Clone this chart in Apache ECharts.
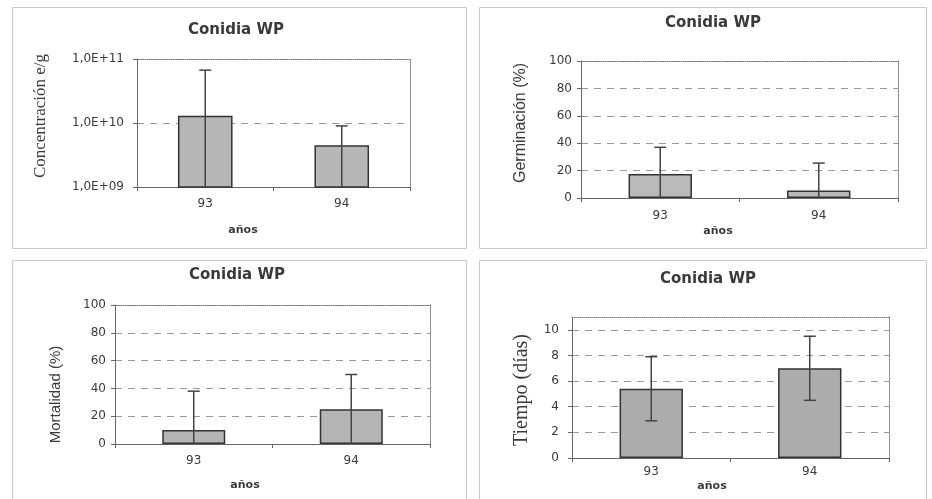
<!DOCTYPE html>
<html><head><meta charset="utf-8">
<script src="https://cdn.jsdelivr.net/npm/echarts@6/dist/echarts.min.js"></script>
<style>html,body{margin:0;padding:0;background:#fff}#c{width:932px;height:499px}</style>
</head><body><div id="c"></div>
<script>
// ---- data ----
const categories = ['93', '94'];
const titleText = 'Conidia WP';
const xName = 'años';

const concValues = [1.3e10, 4.5e9];
const concErrors = [5.4e10, 4.5e9];
const concTicks = [1e9, 1e10, 1e11];
const concTickLabels = ['1,0E+09', '1,0E+10', '1,0E+11'];

const germValues = [17.5, 5.5];
const germErrors = [19.5, 20];

const mortValues = [10, 25];
const mortErrors = [28, 25];

const timeValues = [5.4, 7.0];
const timeErrors = [2.5, 2.5];
const timeTicks = [0, 2, 4, 6, 8, 10];

// ---- layout / style ----
const panels = [
  { box:[12,7,454,241], grid:{left:137,top:59,width:273,height:128}, title:{x:236,y:23},
    yName:'Concentración e/g', yFont:'Liberation Serif', ySize:17, yGap:88, yPad:[0,0,0,14],
    xLabMargin:11, xNameGap:38, xNamePad:[0,61,0,0], yLabMargin:13,
    values:concValues, errors:concErrors, log:true, min:1e9, max:1e11, color:'#b7b7b7', lowCap:false },
  { box:[479,7,447,241], grid:{left:581,top:61,width:317,height:137}, title:{x:713,y:16},
    yName:'Germinación (%)', yFont:'Liberation Sans', ySize:16, yGap:52, yPad:[0,0,0,13],
    xLabMargin:12, xNameGap:28, xNamePad:[0,43,0,0], yLabMargin:9,
    values:germValues, errors:germErrors, min:0, max:100, interval:20, color:'#b9b9b9', lowCap:false },
  { box:[12,260,454,245], grid:{left:115,top:305,width:315,height:139}, title:{x:237,y:268},
    yName:'Mortalidad (%)', yFont:'Liberation Sans', ySize:15, yGap:52, yPad:[0,40,0,0],
    xLabMargin:11, xNameGap:36, xNamePad:[0,55,0,0], yLabMargin:9,
    values:mortValues, errors:mortErrors, min:0, max:100, interval:20, color:'#b5b5b5', lowCap:false },
  { box:[479,260,447,245], grid:{left:572,top:317,width:317,height:141}, title:{x:708,y:272},
    yName:'Tiempo (días)', yFont:'Liberation Serif', ySize:20, yGap:40, yPad:[0,5,0,0],
    xLabMargin:8, xNameGap:23, xNamePad:[0,37,0,0], yLabMargin:13,
    values:timeValues, errors:timeErrors, min:0, max:11, interval:2, custom:timeTicks, color:'#acacac', lowCap:true }
];

const textColor = '#3a3a3a';
const axisColor = '#666';
const tickFont = 'DejaVu Sans';

const option = { animation:false, backgroundColor:'#fff', title:[], grid:[], xAxis:[], yAxis:[], series:[], graphic:[] };

panels.forEach((p, i) => {
  option.graphic.push({ type:'rect', shape:{x:p.box[0]+0.5, y:p.box[1]+0.5, width:p.box[2], height:p.box[3]},
    style:{fill:'none', stroke:'#c9c9c9', lineWidth:1}, z:-10, silent:true });
  option.title.push({ text:titleText, left:p.title.x, top:p.title.y, textAlign:'center', padding:0,
    textStyle:{ fontFamily:'DejaVu Sans', fontWeight:'bold', fontSize:15, color:textColor } });
  option.grid.push(Object.assign({ containLabel:false }, p.grid));

  option.xAxis.push({
    type:'category', gridIndex:i, data:categories, position:'bottom',
    name:xName, nameLocation:'middle', nameGap:p.xNameGap,
    nameTextStyle:{ fontFamily:'DejaVu Sans', fontWeight:'bold', fontSize:11, color:textColor, padding:p.xNamePad },
    axisLine:{ show:true, onZero:false, lineStyle:{ color:axisColor, width:1 } },
    axisTick:{ show:true, alignWithLabel:false, length:4, lineStyle:{ color:axisColor } },
    axisLabel:{ margin:p.xLabMargin, fontFamily:tickFont, fontSize:12, color:textColor },
    splitLine:{ show:false }
  });
  option.xAxis.push({
    type:'category', gridIndex:i, data:categories, position:'top',
    axisLine:{ show:true, onZero:false, lineStyle:{ color:'#7a7a7a', type:'dotted', width:1 } },
    axisTick:{ show:false }, axisLabel:{ show:false }, splitLine:{ show:false }
  });

  const yMain = {
    gridIndex:i, position:'left', min:p.min, max:p.max,
    name:p.yName, nameLocation:'middle', nameGap:p.yGap,
    nameTextStyle:{ fontFamily:p.yFont, fontSize:p.ySize, color:textColor, padding:p.yPad },
    axisLine:{ show:true, onZero:false, lineStyle:{ color:axisColor, width:1 } },
    axisTick:{ show:true, length:4, lineStyle:{ color:axisColor } },
    axisLabel:{ margin:p.yLabMargin, fontFamily:tickFont, fontSize:12, color:textColor },
    splitLine:{ show:true, lineStyle:{ color:'#9a9a9a', type:[7,6], width:1 } }
  };
  if (p.log) {
    yMain.type = 'log'; yMain.logBase = 10;
    yMain.axisLabel.formatter = v => concTickLabels[Math.round(Math.log10(v)) - 9];
  } else {
    yMain.type = 'value'; yMain.interval = p.interval;
    if (p.custom) {
      yMain.axisLabel.customValues = p.custom;
      yMain.axisTick.customValues = p.custom;
    }
  }
  option.yAxis.push(yMain);
  option.yAxis.push({
    type:'value', gridIndex:i, position:'right', min:0, max:1,
    axisLine:{ show:true, onZero:false, lineStyle:{ color:'#7a7a7a', type:'dotted', width:1 } },
    axisTick:{ show:false }, axisLabel:{ show:false }, splitLine:{ show:false }
  });

  option.series.push({
    type:'bar', xAxisIndex:2*i, yAxisIndex:2*i, data:p.values, barWidth:'40%',
    itemStyle:{ color:p.color, borderColor:'#333', borderWidth:1.5 }, z:2
  });

  const errData = p.values.map((v, k) => {
    const lo = v - p.errors[k];
    const clipped = lo <= p.min;
    return [k, clipped ? p.min : lo, v + p.errors[k], clipped ? 1 : 0];
  });
  const lowCap = p.lowCap;
  option.series.push({
    type:'custom', xAxisIndex:2*i, yAxisIndex:2*i, data:errData, z:5,
    encode:{ x:0, y:[1,2] },
    renderItem:(params, api) => {
      const x = api.value(0), lo = api.value(1), hi = api.value(2), clipped = api.value(3);
      const t = api.coord([x, hi]), b = api.coord([x, lo]);
      const cap = 6;
      const st = { stroke:'#444', lineWidth:1.5 };
      const ch = [
        { type:'line', shape:{ x1:t[0], y1:t[1], x2:b[0], y2:b[1] }, style:st },
        { type:'line', shape:{ x1:t[0]-cap, y1:t[1], x2:t[0]+cap, y2:t[1] }, style:st }
      ];
      if (lowCap && !clipped) ch.push({ type:'line', shape:{ x1:b[0]-cap, y1:b[1], x2:b[0]+cap, y2:b[1] }, style:st });
      return { type:'group', children:ch };
    }
  });
});

const chart = echarts.init(document.getElementById('c'), null, { renderer:'canvas' });
chart.setOption(option);
</script>
</body></html>
